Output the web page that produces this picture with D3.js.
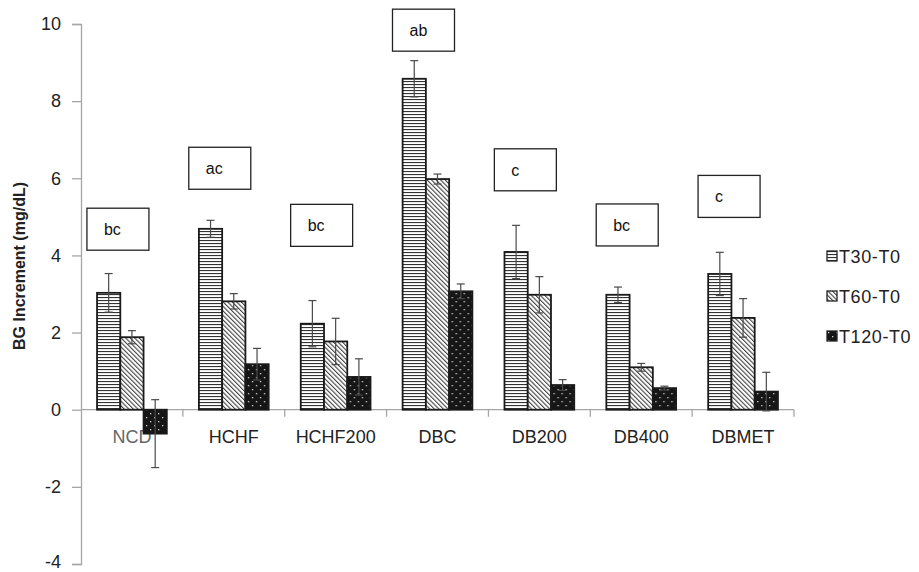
<!DOCTYPE html>
<html>
<head>
<meta charset="utf-8">
<script src="https://cdn.jsdelivr.net/npm/d3@7"></script>
<style>
  body { margin: 0; background: #fff; }
  text { font-family: "Liberation Sans", Arial, sans-serif; }
</style>
</head>
<body>
<div id="chart"></div>
<script>
// data
var groups = ["NCD", "HCHF", "HCHF200", "DBC", "DB200", "DB400", "DBMET"];
var series = ["T30-T0", "T60-T0", "T120-T0"];
var t30 = [3.03, 4.69, 2.23, 8.58, 4.09, 2.98, 3.52];
var t60 = [1.88, 2.81, 1.77, 5.98, 2.98, 1.10, 2.38];
var t120 = [-0.62, 1.18, 0.85, 3.07, 0.64, 0.56, 0.47];
var t30Err = [0.50, 0.22, 0.60, 0.47, 0.69, 0.20, 0.56];
var t60Err = [0.17, 0.20, 0.60, 0.13, 0.47, 0.10, 0.50];
var t120Err = [0.88, 0.41, 0.47, 0.19, 0.14, 0.05, 0.50];
var letters = ["bc", "ac", "bc", "ab", "c", "bc", "c"];
var letterY = [4.68, 6.26, 4.78, 9.84, 6.22, 4.79, 5.53];
var yTicks = [-4, -2, 0, 2, 4, 6, 8, 10];

var width = 919, height = 572;
var margin = {left: 81, right: 125, top: 24, bottom: 8};

var svg = d3.select("#chart").append("svg")
    .attr("width", width)
    .attr("height", height);

var defs = svg.append("defs");

// horizontal stripes
var p1 = defs.append("pattern")
    .attr("id", "pat30")
    .attr("patternUnits", "userSpaceOnUse")
    .attr("width", 6).attr("height", 3);
p1.append("rect").attr("width", 6).attr("height", 3).attr("fill", "#fff");
p1.append("rect").attr("y", 0).attr("width", 6).attr("height", 1.1).attr("fill", "#333");

// diagonal stripes (top-left to bottom-right)
var p2 = defs.append("pattern")
    .attr("id", "pat60")
    .attr("patternUnits", "userSpaceOnUse")
    .attr("width", 3.2).attr("height", 3.2)
    .attr("patternTransform", "rotate(-45)");
p2.append("rect").attr("width", 3.2).attr("height", 3.2).attr("fill", "#fff");
p2.append("rect").attr("width", 1.1).attr("height", 3.2).attr("fill", "#444");

// black with dots
var p3 = defs.append("pattern")
    .attr("id", "pat120")
    .attr("patternUnits", "userSpaceOnUse")
    .attr("width", 8).attr("height", 8);
p3.append("rect").attr("width", 8).attr("height", 8).attr("fill", "#161616");
p3.append("rect").attr("x", 1).attr("y", 1).attr("width", 1.3).attr("height", 1.3).attr("fill", "#ccc");
p3.append("rect").attr("x", 5).attr("y", 5).attr("width", 1.3).attr("height", 1.3).attr("fill", "#ccc");

var fills = {"T30-T0": "url(#pat30)", "T60-T0": "url(#pat60)", "T120-T0": "url(#pat120)"};

var x0 = d3.scaleBand()
    .domain(groups)
    .range([margin.left, width - margin.right - 0])
    .paddingInner(0).paddingOuter(0);

var x1 = d3.scaleBand()
    .domain(series)
    .range([0, x0.bandwidth()])
    .paddingInner(0).paddingOuter(0.69);

var y = d3.scaleLinear()
    .domain([-4, 10])
    .range([height - margin.bottom, margin.top]);

var rows = groups.map(function(g, i) {
    return {
        group: g,
        vals: [
            {key: "T30-T0", value: t30[i], err: t30Err[i]},
            {key: "T60-T0", value: t60[i], err: t60Err[i]},
            {key: "T120-T0", value: t120[i], err: t120Err[i]}
        ]
    };
});

// y axis
var yAxis = svg.append("g")
    .attr("transform", "translate(" + margin.left + ",0)")
    .call(d3.axisLeft(y).tickValues(yTicks).tickSize(9).tickPadding(11)
        .tickFormat(function(d) { return String(d); }));
yAxis.select(".domain").attr("stroke", "#a6a6a6").attr("stroke-width", 1.3);
yAxis.selectAll(".tick line").attr("stroke", "#a6a6a6").attr("stroke-width", 1.3);
yAxis.selectAll(".tick text")
    .attr("font-size", 18)
    .attr("fill", "#222")
    .attr("dy", function(d) { return d == -4 ? "0.2em" : "0.32em"; })
    .style("font-family", "'Liberation Sans', Arial, sans-serif");

// zero line with category ticks
var xAxis = svg.append("g")
    .attr("transform", "translate(0," + y(0) + ")");
xAxis.append("line")
    .attr("x1", margin.left).attr("x2", x0.range()[1])
    .attr("stroke", "#a6a6a6").attr("stroke-width", 1.3);
xAxis.selectAll(".ctick")
    .data(groups.slice(1).concat(["end"]))
    .enter().append("line")
    .attr("class", "ctick")
    .attr("x1", function(d, i) { return x0.range()[0] + (i + 1) * x0.step(); })
    .attr("x2", function(d, i) { return x0.range()[0] + (i + 1) * x0.step(); })
    .attr("y1", 0).attr("y2", 7)
    .attr("stroke", "#a6a6a6").attr("stroke-width", 1.3);

// category labels
svg.append("g").selectAll("text")
    .data(groups)
    .enter().append("text")
    .attr("x", function(d) { return x0(d) + x0.bandwidth() / 2; })
    .attr("y", y(0) + 33)
    .attr("text-anchor", "middle")
    .attr("font-size", 18)
    .attr("fill", function(d) { return d == "NCD" ? "#666" : "#222"; })
    .text(function(d) { return d; });

// bars
var grp = svg.append("g").selectAll("g")
    .data(rows)
    .enter().append("g")
    .attr("transform", function(d) { return "translate(" + x0(d.group) + ",0)"; });

grp.selectAll("rect")
    .data(function(d) { return d.vals; })
    .enter().append("rect")
    .attr("x", function(d) { return x1(d.key); })
    .attr("width", x1.bandwidth())
    .attr("y", function(d) { return y(Math.max(0, d.value)); })
    .attr("height", function(d) { return Math.abs(y(d.value) - y(0)); })
    .attr("fill", function(d) { return fills[d.key]; })
    .attr("stroke", "#1a1a1a")
    .attr("stroke-width", 1.8);

// error bars
var eb = grp.selectAll(".err")
    .data(function(d) { return d.vals; })
    .enter().append("g")
    .attr("class", "err")
    .attr("stroke", "#4a4a4a")
    .attr("stroke-width", 1.2);
eb.append("line")
    .attr("x1", function(d) { return x1(d.key) + x1.bandwidth() / 2; })
    .attr("x2", function(d) { return x1(d.key) + x1.bandwidth() / 2; })
    .attr("y1", function(d) { return y(d.value - d.err); })
    .attr("y2", function(d) { return y(d.value + d.err); });
eb.selectAll(".cap")
    .data(function(d) { return [d.value - d.err, d.value + d.err].map(function(v) { return {key: d.key, v: v}; }); })
    .enter().append("line")
    .attr("x1", function(d) { return x1(d.key) + x1.bandwidth() / 2 - 4; })
    .attr("x2", function(d) { return x1(d.key) + x1.bandwidth() / 2 + 4; })
    .attr("y1", function(d) { return y(d.v); })
    .attr("y2", function(d) { return y(d.v); });

// significance letters in boxes
var boxW = 62, boxH = 42;
var ann = svg.append("g").selectAll("g")
    .data(groups)
    .enter().append("g")
    .attr("transform", function(d, i) {
        var cx = x0(d) + x0.bandwidth() / 2 - 14;
        return "translate(" + (cx - boxW / 2) + "," + (y(letterY[i]) - boxH / 2) + ")";
    });
ann.append("rect")
    .attr("width", boxW).attr("height", boxH)
    .attr("fill", "#fff")
    .attr("stroke", "#222").attr("stroke-width", 1.3);
ann.append("text")
    .attr("x", 17).attr("y", boxH / 2 + 6)
    .attr("font-size", 16)
    .attr("fill", "#111")
    .text(function(d, i) { return letters[i]; });

// y axis title
svg.append("text")
    .attr("transform", "translate(25," + 266 + ") rotate(-90)")
    .attr("text-anchor", "middle")
    .attr("font-size", 16)
    .attr("font-weight", "bold")
    .attr("fill", "#222")
    .text("BG Increment (mg/dL)");

// legend
var leg = svg.append("g").selectAll("g")
    .data(series)
    .enter().append("g")
    .attr("transform", function(d, i) { return "translate(827," + (251 + i * 40) + ")"; });
leg.append("rect")
    .attr("width", 10).attr("height", 10)
    .attr("fill", function(d) { return fills[d]; })
    .attr("stroke", "#222").attr("stroke-width", 1.3);
leg.append("text")
    .attr("x", 12).attr("y", 11.5)
    .attr("font-size", 18)
    .attr("letter-spacing", 0.6)
    .attr("fill", "#222")
    .text(function(d) { return d; });
</script>
</body>
</html>
